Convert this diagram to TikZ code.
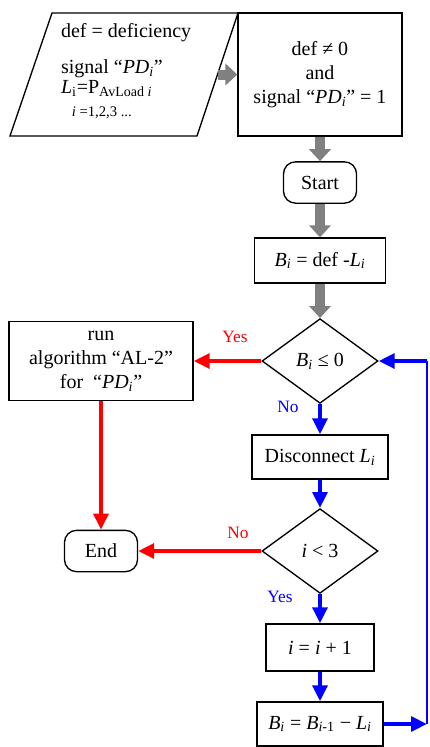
\documentclass[tikz,border=0pt]{standalone}
\usepackage{fontspec}
\setmainfont{Liberation Serif}
\usetikzlibrary{positioning,shapes.geometric,arrows.meta}
\tikzset{
	inputpar/.pic = {
	 \coordinate (-right) at (93.5,0) ;
	 \draw (-114,61.5) -- (-72,-61.5) -- (114,-61.5) -- (73,61.5) -- cycle;
	 }}
\tikzset{
	txt/.style = {font=\fontsize{15}{18}\selectfont},
	box/.style = {txt, draw, rectangle, align=center, inner sep=0},
	term/.style = {txt, draw, rectangle, rounded corners=9pt, minimum width=54.75pt, minimum height=31pt},
	decision/.style = {txt, draw, diamond, aspect=1.4, inner sep=0, minimum width=87pt, minimum height=63.5pt},
	lbl/.style = {font=\fontsize{13}{15}\selectfont},
	grayarrow/.style = {draw=gray, line width=7.5pt, -{Triangle[width=16pt,length=9pt]}},
	redarrow/.style = {draw=red, line width=3pt, -{Triangle[width=11pt,length=12pt]}},
	bluearrow/.style = {draw=blue, line width=3pt, -{Triangle[width=11pt,length=12pt]}}
}

\begin{document}
\begin{tikzpicture}[x=0.75pt, y=-0.75pt, line width=1pt]
\useasboundingbox (0,0) rectangle (429,747);

% NODES

% input, condition
\pic (inp) at (124,74.5) {inputpar};
\node (inptext) [txt, align=left, anchor=west] at (56,71) {def = deficiency\\[9pt]
 signal ``\textit{PD}\textsubscript{\textit{i}}''\\[-3pt]
 \textit{L}\textsubscript{i}=P\textsubscript{AvLoad \textit{i}}\\[-1pt]
 \hspace{8pt}{\fontsize{11}{13}\selectfont \textit{i} =1,2,3 ...}};
\node (cond) [box, minimum width=123pt, minimum height=92.25pt] at (320,74.5) {def ≠ 0\\ and\\ signal ``\textit{PD}\textsubscript{\textit{i}}'' = 1};

% start, first balance
\node (start) [term] at (320,182.5) {Start};
\node (bdef) [box, minimum width=98.25pt, minimum height=33.75pt] at (320,260.5) {\textit{B}\textsubscript{\textit{i}} = def -\textit{L}\textsubscript{\textit{i}}};

% first test, algorithm, end
\node (d1) [decision] at (320,361) {\textit{B}\textsubscript{\textit{i}} ≤ 0};
\node (alg) [box, minimum width=138pt, minimum height=59.25pt] at (101,361) {run\\ algorithm ``AL-2''\\ for \ ``\textit{PD}\textsubscript{\textit{i}}''};
\node (endn) [term] at (101,551) {End};

% disconnect loop
\node (disc) [box, minimum width=102pt, minimum height=33pt] at (320,457) {Disconnect \textit{L}\textsubscript{\textit{i}}};
\node (d2) [decision] at (320,551) {\textit{i} < 3};
\node (incr) [box, minimum width=81pt, minimum height=35.25pt] at (320,647.5) {\textit{i} = \textit{i} + 1};
\node (bupd) [box, minimum width=94.5pt, minimum height=33pt] at (320,724) {\textit{B}\textsubscript{\textit{i}} = \textit{B}\textsubscript{\textit{i}-1} − \textit{L}\textsubscript{\textit{i}}};
\coordinate (loopbot) at (427,724);
\coordinate (looptop) at (427,361);

% labels
\node (yes1) [lbl, red] at (235,337) {Yes};
\node (no1) [lbl, blue] at (288,407) {No};
\node (no2) [lbl, red] at (238,533) {No};
\node (yes2) [lbl, blue] at (280,597) {Yes};


%CONNECTIONS
\draw [grayarrow] (inp-right) -- (cond.west);
\draw [grayarrow] (cond) -- (start);
\draw [grayarrow] (start) -- (bdef);
\draw [grayarrow] (bdef) -- (d1);
\draw [redarrow] (d1) -- (alg);
\draw [redarrow] (alg) -- (endn);
\draw [redarrow] (d2) -- (endn);
\draw [bluearrow] (d1) -- (disc);
\draw [bluearrow] (disc) -- (d2);
\draw [bluearrow] (d2) -- (incr);
\draw [bluearrow] (incr) -- (bupd);
\draw [bluearrow] (bupd) -- (loopbot);
\draw [blue, line width=1pt] (loopbot) -- (looptop);
\draw [bluearrow] (looptop) -- (d1);

\end{tikzpicture}
\end{document}
